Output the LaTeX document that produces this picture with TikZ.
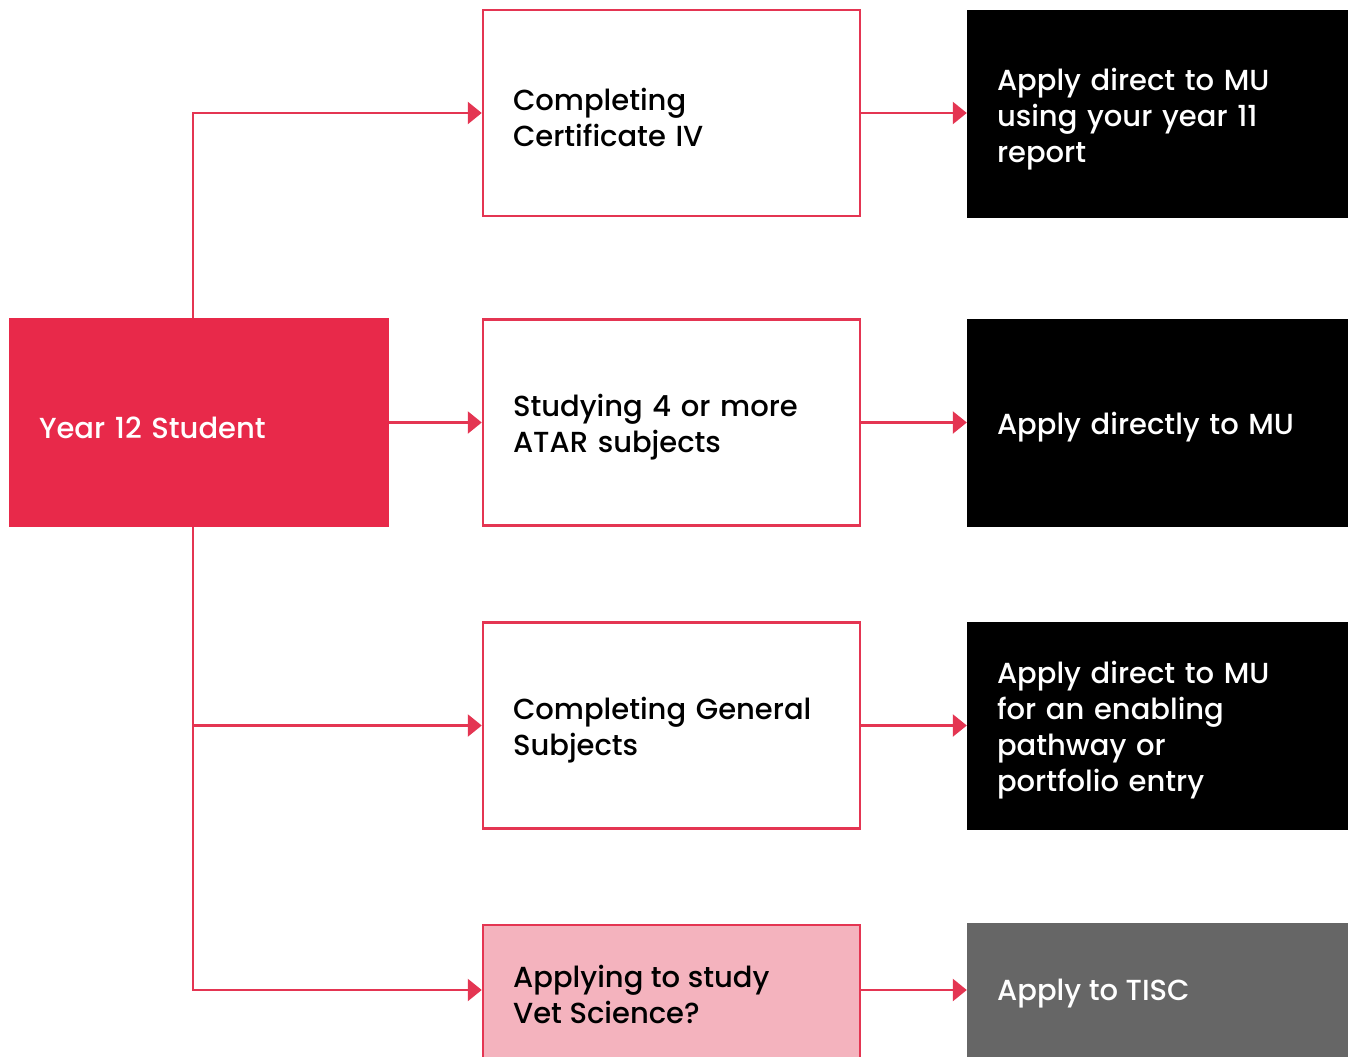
\documentclass[tikz,border=0pt]{standalone}
\usepackage{fontspec}
\setmainfont{Poppins}[UprightFont=*-Medium]
\usetikzlibrary{arrows.meta,positioning}

\definecolor{mured}{HTML}{E8294A}
\definecolor{muline}{HTML}{E43552}
\definecolor{mupink}{HTML}{F4B3BE}
\definecolor{mugrey}{HTML}{666666}

\tikzset{
  box/.style={rectangle, inner xsep=30pt, inner ysep=0pt, align=left,
    font=\fontsize{29}{36}\selectfont},
  % a tall strut on the first line pushes the text a bit down
  lowered/.style={execute at begin node={\noindent\rule{0pt}{32pt}}},
  choice/.style={box, lowered, draw=muline, line width=2.5pt, fill=white,
    minimum width=377pt, minimum height=206pt, text width=317pt},
  result/.style={box, lowered, fill=black, text=white,
    minimum width=381pt, minimum height=208pt, text width=321pt},
  start/.style={box, lowered, fill=mured, text=white,
    minimum width=380pt, minimum height=209pt, text width=320pt},
  link/.style={draw=muline, line width=2.5pt, -{Triangle[length=14pt,width=22pt]}}
}

\begin{document}
\begin{tikzpicture}[x=1pt, y=-1pt]
		\clip (0,0) rectangle (1353,1057);
		\fill[white] (0,0) rectangle (1353,1057);
		
		% Start
		\node[start] (student) at (199,422.5) {Year 12 Student};
		
		% Middle column
		\node[choice] (cert) at (671.5,113) {Completing\\Certificate IV};
		\node[choice] (atar) at (671.5,422.5) {Studying 4 or more\\ATAR subjects};
		\node[choice] (general) at (671.5,725.5) {Completing General\\Subjects};
		\node[choice, fill=mupink] (vet) at (671.5,1028) {};
		\node[box, anchor=west, inner xsep=0pt] (vettext) at (513,994) {Applying to study\\Vet Science?};
		
		% Right column
		\node[result] (direct11) at (1157.5,114) {Apply direct to MU\\using your year 11\\report};
		\node[result] (direct) at (1157.5,422.5) {Apply directly to MU};
		\node[result] (enabling) at (1157.5,725.5) {Apply direct to MU\\for an enabling\\pathway or\\portfolio entry};
		\node[result, fill=mugrey] (tisc) at (1157.5,1027) {};
		\node[box, anchor=west, inner xsep=0pt, text=white] (tisctext) at (997,994) {Apply to TISC};
		
		\coordinate (vetin) at (vet.west |- 0,990);
		
		% Draw connectors
		\draw[link] ([xshift=-6pt]student.north) |- (cert.west);
		\draw[link] (student.east) -- (atar.west);
		\draw[link] ([xshift=-6pt]student.south) |- (general.west);
		\draw[link] ([xshift=-6pt]student.south) |- (vetin);
		
		\draw[link] (cert.east) -- (direct11.west |- cert.east);
		\draw[link] (atar.east) -- (direct.west);
		\draw[link] (general.east) -- (enabling.west);
		\draw[link] (vet.east |- vetin) -- (tisc.west |- vetin);
	\end{tikzpicture}
\end{document}
